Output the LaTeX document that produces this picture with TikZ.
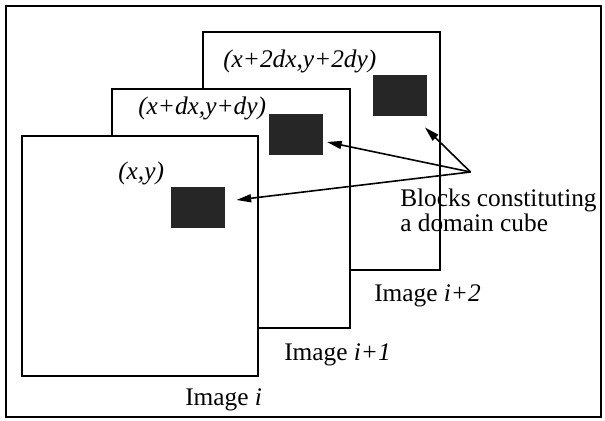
\documentclass[tikz,border=0pt]{standalone}
\usepackage{fontspec}
\setmainfont{Liberation Serif}
\usetikzlibrary{arrows.meta}

\tikzset{
  frame/.style={draw, line width=1.4pt, fill=white},
  block/.style={fill=black!85, inner sep=0pt, minimum width=40.5pt, minimum height=30.75pt},
  lbl/.style={inner sep=0pt, anchor=base west, font=\fontsize{19}{19}\selectfont},
  pointer/.style={line width=1.2pt, -{Triangle[length=11pt,width=6pt]}}
}

\begin{document}
\begin{tikzpicture}[x=0.75pt,y=-0.75pt]

  % Fix the page to the size of the reference
  \useasboundingbox (0,0) rectangle (605,420);

  % Draw the outer frame
  \draw[line width=1.1pt] (6,6) rectangle (601,417);

  % Draw the three images, back to front
  \draw[frame] (203,32) rectangle (440,270);
  \draw[frame] (112,89) rectangle (350,328);
  \draw[frame] (22,136) rectangle (258,376);

  % Place the dark blocks
  \node[block] (blk2) at (400,95.5) {};
  \node[block] (blk1) at (295.5,134.5) {};
  \node[block] (blk0) at (198,207.5) {};

  % Place the position labels
  \node[lbl] (pos2) at (223,68) {\textit{(x+2dx,y+2dy)}};
  \node[lbl] (pos1) at (138,115) {\textit{(x+dx,y+dy)}};
  \node[lbl] (pos0) at (118,180) {\textit{(x,y)}};

  % Place the image names
  \node[lbl] (img2) at (374,301) {Image \textit{i+2}};
  \node[lbl] (img1) at (284,360) {Image \textit{i+1}};
  \node[lbl] (img0) at (185,405) {Image \textit{i}};

  % Caption for the blocks
  \node[lbl] (cap1) at (400,206) {Blocks constituting};
  \node[lbl] (cap2) at (400,231) {a domain cube};

  % Arrows from the caption to the blocks
  \coordinate (src) at (470.5,172);
  \coordinate (tip2) at (425,127.5);
  \coordinate (tip1) at (327,142);
  \coordinate (tip0) at (236.5,200);
  \draw[pointer] (src) -- (tip2);
  \draw[pointer] (src) -- (tip1);
  \draw[pointer] (src) -- (tip0);

\end{tikzpicture}
\end{document}
